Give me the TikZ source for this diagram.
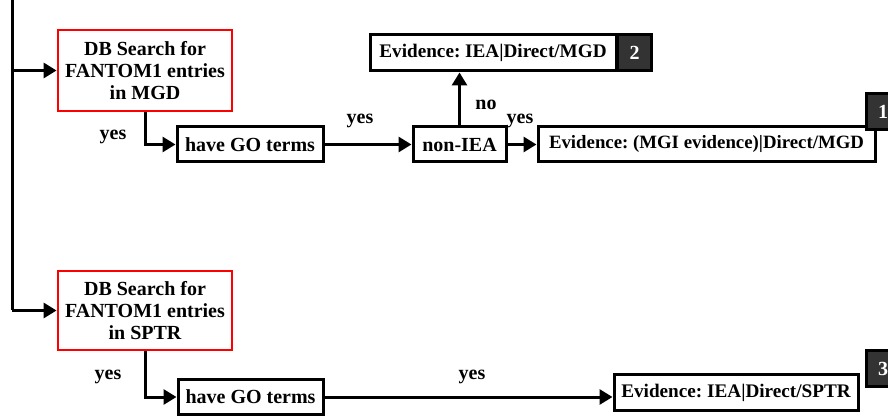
\documentclass[tikz,border=0pt]{standalone}
\usepackage{fontspec}
\setmainfont{Liberation Serif}
\usetikzlibrary{arrows.meta}
\frenchspacing

\begin{document}
\begin{tikzpicture}[x=0.5pt, y=-0.5pt, >={Triangle[length=6.5pt,width=7.5pt]},
    box/.style={draw, line width=1.5pt, fill=white, inner sep=0pt, align=center,
        font=\bfseries\fontsize{10}{11}\selectfont},
    evbox/.style={box, font=\bfseries\fontsize{#1}{11}\selectfont},
    dbbox/.style={box, draw=red, line width=1.4pt, minimum width=87pt},
    badge/.style={draw, line width=1.5pt, fill=black!80, text=white, inner sep=0pt,
        font=\bfseries\fontsize{10}{11}\selectfont, minimum width=17pt, minimum height=18pt},
    flow/.style={->, line width=1.5pt},
    lbl/.style={font=\bfseries\fontsize{10}{11}\selectfont}]
    \useasboundingbox (0,0) rectangle (888,416);

    % MGD branch
    \node[dbbox, minimum height=40.5pt] (dbm) at (145,70.5) {DB Search for\\FANTOM1 entries\\in MGD};
    \node[box, minimum width=73pt, minimum height=17.5pt] (gom) at (250,144.5) {have GO terms};
    \node[box, minimum width=46.5pt, minimum height=17.5pt] (niea) at (459.5,144.5) {non-IEA};
    \node[evbox=9.6, minimum width=123pt, minimum height=18pt] (evi2) at (493,53) {Evidence: IEA|Direct/MGD};
    \node[badge] (b2) at (634.5,52.5) {2};
    \node[evbox=9.4, minimum width=168.5pt, minimum height=17.5pt] (evi1) at (706.5,144.5) {Evidence: (MGI evidence)|Direct/MGD};
    \node[badge] (b1) at (883,112) {1};

    % SPTR branch
    \node[dbbox, minimum height=39.5pt] (dbs) at (145,310.5) {DB Search for\\FANTOM1 entries\\in SPTR};
    \node[box, minimum width=72.5pt, minimum height=17pt] (gos) at (250.5,397) {have GO terms};
    \node[evbox=9.6, minimum width=122pt, minimum height=17.5pt] (evi3) at (736,392.5) {Evidence: IEA|Direct/SPTR};
    \node[badge] (b3) at (883,368.5) {3};

    % Trunk
    \coordinate (top) at (12,0);
    \draw[line width=1.5pt] (top) -- (top |- dbs.west);
    \draw[flow] (top |- dbm.west) -- (dbm.west);
    \draw[flow] (top |- dbs.west) -- (dbs.west);

    % Connectors
    \draw[flow] (dbm.south) |- (gom.west);
    \node[lbl] (y1) at (113,137) {yes};
    \draw[flow] (gom.east) -- (niea.west);
    \node[lbl] (y2) at (360,121) {yes};
    \draw[flow] (niea.north) -- (niea.north |- evi2.south);
    \node[lbl] (n1) at (486,105) {no};
    \draw[flow] (niea.east) -- (evi1.west);
    \node[lbl] (y3) at (520,121) {yes};
    \draw[flow] (dbs.south) |- (gos.west);
    \node[lbl] (y4) at (108,377) {yes};
    \draw[flow] (gos.east) -- (gos.east -| evi3.west);
    \node[lbl] (y5) at (472,377) {yes};
\end{tikzpicture}
\end{document}
